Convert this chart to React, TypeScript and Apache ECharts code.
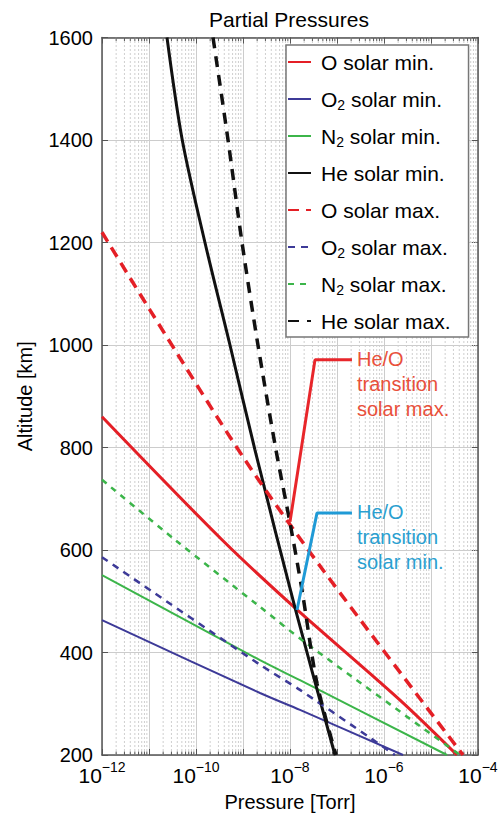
import React, { useEffect, useRef } from 'react';
import * as echarts from 'echarts';

// Pressure [Torr], Altitude [km]
const oSolarMin = [[1e-12, 860], [3.57e-10, 620], [1.28e-8, 487], [2.19e-6, 307], [3.57e-5, 200]];
const o2SolarMin = [[1e-12, 463], [2.3e-9, 321], [1.63e-8, 288], [2.54e-6, 200]];
const n2SolarMin = [[1e-12, 551], [2.3e-9, 385], [1.63e-8, 346], [2.19e-5, 200]];
const heSolarMin = [[2.415e-11, 1600], [5.1e-11, 1400], [1.55e-10, 1200], [5.28e-10, 1000], [1.8e-9, 795], [1.28e-8, 487], [9.06e-8, 200]];
const oSolarMax = [[1e-12, 1220], [1.05e-11, 1068], [1.1e-9, 776], [5.03e-8, 561], [4.8e-5, 200]];
const o2SolarMax = [[1e-12, 586], [2.3e-9, 376], [1.63e-8, 327], [1.71e-6, 200]];
const n2SolarMax = [[1e-12, 737], [3.57e-11, 620], [2.3e-9, 489], [2.08e-8, 420], [4.14e-5, 200]];
const heSolarMax = [[2.3e-10, 1600], [4.8e-10, 1400], [9.53e-10, 1200], [2.08e-9, 1000], [5.03e-9, 795], [1.0e-8, 653], [1.8e-8, 522], [3.75e-8, 340], [9.53e-8, 200]];

const transitionMaxLine = [[1.0e-8, 655], [3.4e-8, 971], [2.08e-7, 971]];
const transitionMinLine = [[1.41e-8, 483], [3.75e-8, 672], [2.08e-7, 672]];
const transitionMaxText = 'He/O\ntransition\nsolar max.';
const transitionMinText = 'He/O\ntransition\nsolar min.';

const seriesNames = [
  'O solar min.', 'O2 solar min.', 'N2 solar min.', 'He solar min.',
  'O solar max.', 'O2 solar max.', 'N2 solar max.', 'He solar max.',
];

const xMin = 1e-12;
const xMax = 1e-4;
const yMin = 200;
const yMax = 1600;
const decadeExponents = [-12, -11, -10, -9, -8, -7, -6, -5];
const minorMultipliers = [2, 3, 4, 5, 6, 7, 8, 9];

const RED = '#e41f26';
const BLUE = '#3d3a98';
const GREEN = '#3cb54a';
const BLACK = '#111111';
const FONT = 'Liberation Sans, Arial, Helvetica, sans-serif';

export default function App() {
  const ref = useRef<HTMLDivElement>(null);

  useEffect(() => {
    if (!ref.current) return;
    const chart = echarts.init(ref.current, undefined, { renderer: 'svg' });

    const minorValues: number[][] = [];
    decadeExponents.forEach((e) => {
      minorMultipliers.forEach((m) => {
        minorValues.push([m * Math.pow(10, e), yMin]);
      });
    });

    const mk = (name: string, data: number[][], color: string, width: number, type: any) => ({
      name,
      type: 'line',
      data,
      symbol: 'none',
      showSymbol: false,
      smooth: 0.3,
      z: 3,
      lineStyle: { color, width, type },
      itemStyle: { color },
    });

    const option: any = {
      animation: false,
      backgroundColor: '#fff',
      textStyle: { fontFamily: FONT },
      title: {
        text: 'Partial Pressures',
        left: 209,
        top: 9,
        padding: 0,
        textStyle: { fontSize: 21, fontWeight: 'normal', color: '#000', fontFamily: FONT },
      },
      grid: { left: 102, right: 23, top: 37.5, bottom: 64, containLabel: false },
      legend: {
        data: seriesNames,
        orient: 'vertical',
        left: 286,
        top: 45,
        padding: [4, 18, 3, 1],
        itemGap: 11,
        itemWidth: 23,
        itemHeight: 14,
        backgroundColor: '#fff',
        borderColor: '#777',
        borderWidth: 1.5,
        borderRadius: 0,
        selectedMode: false,
        itemStyle: { opacity: 0, borderWidth: 0 },
        textStyle: {
          fontSize: 21,
          color: '#000',
          fontFamily: FONT,
          lineHeight: 26,
          padding: [0, 0, 0, 5],
          rich: {
            sub: { fontSize: 14, verticalAlign: 'bottom', fontFamily: FONT, color: '#000' },
          },
        },
        formatter: (name: string) => name.replace(/^(O|N)2/, '$1{sub|2}'),
      },
      xAxis: [
        {
          type: 'log',
          logBase: 10,
          min: xMin,
          max: xMax,
          name: 'Pressure [Torr]',
          nameLocation: 'middle',
          nameGap: 37,
          nameTextStyle: { fontSize: 20, color: '#000', fontFamily: FONT },
          axisLine: { show: true, onZero: false, lineStyle: { color: '#555', width: 1.5 } },
          axisTick: { show: true, inside: true, length: 6, lineStyle: { color: '#555' } },
          splitLine: { show: true, lineStyle: { color: '#cccccc', width: 1 } },
          axisLabel: {
            margin: 5,
            formatter: (v: number) => {
              const e = Math.round(Math.log10(v));
              if (e % 2 !== 0) return '';
              return `{b|10}{s|\u2212${-e}}`;
            },
            rich: {
              b: { fontSize: 21, color: '#000', fontFamily: FONT, lineHeight: 26, verticalAlign: 'bottom' },
              s: { fontSize: 14, color: '#000', fontFamily: FONT, verticalAlign: 'top' },
            },
          },
        },
        {
          type: 'log',
          logBase: 10,
          min: xMin,
          max: xMax,
          position: 'top',
          axisLine: { show: true, onZero: false, lineStyle: { color: '#555', width: 1.5 } },
          axisTick: { show: true, inside: true, length: 6, lineStyle: { color: '#555' } },
          axisLabel: { show: false },
          splitLine: { show: false },
        },
      ],
      yAxis: [
        {
          type: 'value',
          min: yMin,
          max: yMax,
          interval: 200,
          name: 'Altitude [km]',
          nameLocation: 'middle',
          nameGap: 67,
          nameTextStyle: { fontSize: 20, color: '#000', fontFamily: FONT },
          axisLine: { show: true, onZero: false, lineStyle: { color: '#555', width: 1.5 } },
          axisTick: { show: true, inside: true, length: 6, lineStyle: { color: '#555' } },
          splitLine: { show: true, lineStyle: { color: '#cccccc', width: 1 } },
          axisLabel: {
            fontSize: 20,
            color: '#000',
            margin: 9,
            fontFamily: FONT,
            formatter: (v: number) => String(v),
          },
        },
        {
          type: 'value',
          min: yMin,
          max: yMax,
          interval: 200,
          position: 'right',
          axisLine: { show: true, onZero: false, lineStyle: { color: '#555', width: 1.5 } },
          axisTick: { show: true, inside: true, length: 6, lineStyle: { color: '#555' } },
          axisLabel: { show: false },
          splitLine: { show: false },
        },
      ],
      series: [
        {
          name: 'minorGrid',
          type: 'custom',
          silent: true,
          z: 1,
          xAxisIndex: 0,
          yAxisIndex: 0,
          data: minorValues,
          encode: { x: 0, y: 1 },
          renderItem: (params: any, api: any) => {
            const v = api.value(0);
            const b = api.coord([v, yMin]);
            const t = api.coord([v, yMax]);
            return {
              type: 'group',
              children: [
                { type: 'line', shape: { x1: b[0], y1: b[1], x2: t[0], y2: t[1] }, style: { stroke: '#cfcfcf', lineWidth: 1, lineDash: [2, 2] } },
                { type: 'line', shape: { x1: b[0], y1: b[1], x2: b[0], y2: b[1] - 3.5 }, style: { stroke: '#555', lineWidth: 1 } },
                { type: 'line', shape: { x1: t[0], y1: t[1], x2: t[0], y2: t[1] + 3.5 }, style: { stroke: '#555', lineWidth: 1 } },
              ],
            };
          },
        },
        mk(seriesNames[0], oSolarMin, RED, 3, 'solid'),
        mk(seriesNames[1], o2SolarMin, BLUE, 2, 'solid'),
        mk(seriesNames[2], n2SolarMin, GREEN, 2, 'solid'),
        mk(seriesNames[3], heSolarMin, BLACK, 3, 'solid'),
        mk(seriesNames[4], oSolarMax, RED, 3.5, [11, 7]),
        mk(seriesNames[5], o2SolarMax, BLUE, 2.5, [7, 6]),
        mk(seriesNames[6], n2SolarMax, GREEN, 2.5, [6, 6]),
        mk(seriesNames[7], heSolarMax, BLACK, 3.5, [11, 8]),
        {
          name: 'transitionMax',
          type: 'line',
          data: transitionMaxLine,
          symbol: 'none',
          z: 4,
          lineStyle: { color: '#e8262b', width: 3 },
        },
        {
          name: 'transitionMin',
          type: 'line',
          data: transitionMinLine,
          symbol: 'none',
          z: 4,
          lineStyle: { color: '#1f9ad6', width: 3 },
        },
      ],
    };

    chart.setOption(option);

    const finder = { xAxisIndex: 0, yAxisIndex: 0 };
    const pMax = chart.convertToPixel(finder, transitionMaxLine[transitionMaxLine.length - 1]) as number[];
    const pMin = chart.convertToPixel(finder, transitionMinLine[transitionMinLine.length - 1]) as number[];

    chart.setOption({
      graphic: [
        {
          type: 'text',
          x: pMax[0] + 5,
          y: pMax[1] - 13,
          z: 10,
          style: {
            text: transitionMaxText,
            fill: '#e9503b',
            fontSize: 20,
            fontFamily: FONT,
            lineHeight: 25,
            verticalAlign: 'top',
            align: 'left',
          },
        },
        {
          type: 'text',
          x: pMin[0] + 5,
          y: pMin[1] - 14,
          z: 10,
          style: {
            text: transitionMinText,
            fill: '#2a9fd0',
            fontSize: 20,
            fontFamily: FONT,
            lineHeight: 25,
            verticalAlign: 'top',
            align: 'left',
          },
        },
      ],
    });

    return () => chart.dispose();
  }, []);

  return (
    <div
      ref={ref}
      style={{ position: 'absolute', left: 0, top: 0, width: 501, height: 819, background: '#fff' }}
    />
  );
}
